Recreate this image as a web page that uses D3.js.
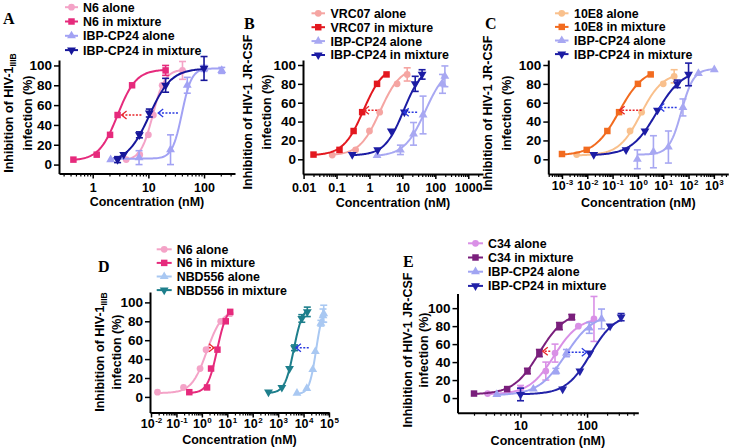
<!DOCTYPE html>
<html lang="en">
<head>
<meta charset="UTF-8">
<title>Inhibition of HIV-1 infection</title>
<script src="https://d3js.org/d3.v7.min.js"></script>
<style>
  body { margin: 0; background: #fff; }
  svg { display: block; font-family: "Liberation Sans", Arial, sans-serif; }
</style>
</head>
<body>
<svg id="chart" width="731" height="448"></svg>
<script>
// ---- data: [concentration nM, inhibition %, error] ----
// fits: [bottom, top, EC50, hill]
const A_names = ["N6 alone", "N6 in mixture", "IBP-CP24 alone", "IBP-CP24 in mixture"];
const A_N6_alone = [[4,5,0],[7,10,0],[10,30,0],[12.3,50,0],[17.7,80,0],[41,95,9]];
const A_N6_mix = [[0.45,5,0],[1.18,10,0],[2.05,30,0],[2.8,50,0],[5.1,80,0],[20.4,95,5]];
const A_IBP_alone = [[2.1,5,0],[6.8,7,7],[25,15,15],[50,80,8],[100,97,3],[208,95,3]];
const A_IBP_mix = [[2.8,5,3],[3.6,10,0],[6.9,30,3],[10.4,52,4],[20.4,80,7],[100,97,12]];
const A_fits = [[4,96,12,4], [4,96,2.8,2.6], [6,97,40,5], [2,97,10.4,2.2]];
const A_arrows = [[7.5,3.3,50], [34,15,52]];
const A_xTicks = [1, 10, 100];

const B_names = ["VRC07 alone", "VRC07 in mixture", "IBP-CP24 alone", "IBP-CP24 in mixture"];
const B_VRC_alone = [[0.074,4.5,0],[0.38,10,0],[1.0,30,0],[2.04,50,0],[6.9,80,0],[14,90,7]];
const B_VRC_mix = [[0.02,5,0],[0.123,10,0],[0.33,30,0],[0.6,50,0],[1.7,80,0],[3.3,90,0]];
const B_IBP_alone = [[1.7,4,0],[8.7,10,5],[21.8,27,12],[42.4,47,20],[165,80,10],[195,88,11]];
const B_IBP_mix = [[0.3,5,0],[1.78,10,0],[4.6,30,0],[11.5,50,0],[24.5,80,8],[39.6,90,5]];
const B_fits = [[4,98,2.1,1.4], [4,100,0.66,1.42], [3,100,50,1.35], [4,100,11,1.5]];
const B_arrows = [[1.7,0.68,52], [28,11,50]];
const B_xTicks = [0.01, 0.1, 1, 10, 100, 1000];

const C_names = ["10E8 alone", "10E8 in mixture", "IBP-CP24 alone", "IBP-CP24 in mixture"];
const C_10E8_alone = [[0.0038,5,0],[0.49,30,0],[1.4,50,0],[10,80,0],[27,88,7]];
const C_10E8_mix = [[0.001,5.6,0],[0.0095,10,0],[0.062,30,0],[0.18,50,0],[1.0,80,0],[3.2,90,0]];
const C_IBP_alone = [[0.95,0,10],[4.1,8,17],[16,13,17],[60,55,9],[245,91,0],[1040,95,0]];
const C_IBP_mix = [[0.018,5,0],[0.34,10,0],[1.9,30,0],[5.9,52,0],[36,80,4],[100,90,12]];
const C_fits = [[4,92,1.3,1.0], [4,97,0.18,0.88], [5,96,52,1.8], [4,95,5.5,0.86]];
const C_arrows = [[1.4,0.19,52], [34,7,55]];
const C_xTicks = [1e-3, 1e-2, 1e-1, 1, 10, 100, 1000];

const D_names = ["N6 alone", "N6 in mixture", "NBD556 alone", "NBD556 in mixture"];
const D_N6_alone = [[0.018,5,0],[0.19,10,0],[0.85,30,0],[1.46,50,0],[5.5,80,0],[13,88,0]];
const D_N6_mix = [[0.32,5,0],[1.6,10,0],[2.3,30,0],[4.1,50,0],[8.7,80,0],[13,90,0]];
const D_NBD_alone = [[5500,4,0],[13400,9,0],[23000,29,0],[29000,48,0],[48000,78,3],[58000,86,7],[62000,88,9]];
const D_NBD_mix = [[417,5,0],[1400,10,0],[2800,30,0],[4400,52,3],[8500,83,4],[14000,90,5]];
const D_fits = [[4,92,1.55,1.46], [4,96,4,2.3], [3,96,31000,3.25], [4,96,4100,2.47]];
const D_arrows = [[1.9,3.0,52], [16000,5000,52]];
const D_xTicks = [1e-2, 1e-1, 1, 10, 100, 1e3, 1e4, 1e5];

const E_names = ["C34 alone", "C34 in mixture", "IBP-CP24 alone", "IBP-CP24 in mixture"];
const E_C34_alone = [[3.2,5,0],[10,10,4],[24,30,10],[33,50,10],[74,80,0],[127,88,25]];
const E_C34_mix = [[2,5,0],[6.3,10,0],[12.7,30,3],[19.2,50,4],[38.4,80,4],[59,90,3]];
const E_IBP_alone = [[4.4,4,0],[15.6,10,0],[34,30,3],[49,50,4],[108,78,6],[165,88,11]];
const E_IBP_mix = [[10,4,7],[43,10,0],[78,30,0],[110,50,0],[222,80,0],[325,90,4]];
const E_fits = [[4,90,32,2.3], [4,96,19,2.25], [3,94,48,2.1], [4,94,113,2.35]];
const E_arrows = [[28,21.6,52], [52,99,51]];
const E_xTicks = [10, 100];

const yTicks = [0, 20, 40, 60, 80, 100];

// ---- layout / styles ----
const RED = "#e8262a", BLUE = "#2a3ae0";
const SYM = { circle: d3.symbolCircle, square: d3.symbolSquare, tri: d3.symbolTriangle, triDown: d3.symbolTriangle };
const SYM_SIZE = { circle: 36, square: 42, tri: 34, triDown: 34 };
const symbols4 = ["circle", "square", "tri", "triDown"];

function mk(names, pts, fits, colors) {
  return names.map((n, i) => ({ name: n, pts: pts[i], fit: fits[i], color: colors[i], sym: symbols4[i] }));
}

const panels = [
  { letter: "A", lx: 3, ly: 24, xDomain: [0.248, 360], xRange: [59, 235], yDomain: [-9, 105.5], yRange: [173.5, 60],
    xTicks: A_xTicks, sup: false, sub: "IIIB", line1: "Inhibition of HIV-1", labX: [9, 28], labY: 113,
    tickBase: 192, titleY: 206, leg: { x0: 65, x1: 78, tx: 83, y0: 7.2, dy: 14.3 },
    series: mk(A_names, [A_N6_alone, A_N6_mix, A_IBP_alone, A_IBP_mix], A_fits, ["#f4a3c7", "#e62a7c", "#a2a2f4", "#16169a"]),
    arrows: A_arrows },
  { letter: "B", lx: 244, ly: 29, xDomain: [0.0096, 2800], xRange: [303, 483], yDomain: [-15.6, 105.3], yRange: [174, 60],
    xTicks: B_xTicks, sup: false, sub: null, line1: "Inhibition of HIV-1 JR-CSF", labX: [248, 266.5], labY: 112,
    tickBase: 192, titleY: 207, leg: { x0: 311.5, x1: 325, tx: 330.5, y0: 13.3, dy: 13.9 },
    series: mk(B_names, [B_VRC_alone, B_VRC_mix, B_IBP_alone, B_IBP_mix], B_fits, ["#f5a5a2", "#e3181f", "#a8a8f2", "#1c1ca4"]),
    arrows: B_arrows },
  { letter: "C", lx: 485, ly: 28.5, xDomain: [Math.pow(10, -3.54), Math.pow(10, 3.57)], xRange: [548.3, 728.3], yDomain: [-15.6, 105.3], yRange: [174, 60],
    xTicks: C_xTicks, sup: true, sub: null, line1: "Inhibition of HIV-1 JR-CSF", labX: [487.5, 506.5], labY: 113,
    tickBase: 190, titleY: 207, leg: { x0: 555, x1: 568.5, tx: 574, y0: 13.3, dy: 13.6 },
    series: mk(C_names, [C_10E8_alone, C_10E8_mix, C_IBP_alone, C_IBP_mix], C_fits, ["#f9c08c", "#f26b1f", "#a8a8f2", "#1c1ca4"]),
    arrows: C_arrows },
  { letter: "D", lx: 98, ly: 272, xDomain: [Math.pow(10, -2.04), 1e5], xRange: [150, 329], yDomain: [-16.5, 111], yRange: [412.5, 292],
    xTicks: D_xTicks, sup: true, sub: "IIIB", line1: "Inhibition of HIV-1", labX: [100, 116.7], labY: 352,
    tickBase: 428, titleY: 443.5, leg: { x0: 156.7, x1: 171.7, tx: 176.7, y0: 249.3, dy: 13.6 },
    series: mk(D_names, [D_N6_alone, D_N6_mix, D_NBD_alone, D_NBD_mix], D_fits, ["#f4a3c7", "#e62a7c", "#a9c8f2", "#1e7f8c"]),
    arrows: D_arrows },
  { letter: "E", lx: 403, ly: 267, xDomain: [Math.pow(10, 0.053), Math.pow(10, 2.77)], xRange: [457.5, 638.3], yDomain: [-16.3, 116.3], yRange: [412.7, 293.5],
    xTicks: E_xTicks, sup: false, sub: null, line1: "Inhibition of HIV-1 JR-CSF", labX: [407.5, 424], labY: 350,
    tickBase: 430.5, titleY: 445, leg: { x0: 468, x1: 483, tx: 488, y0: 243.3, dy: 14.2 },
    series: mk(E_names, [E_C34_alone, E_C34_mix, E_IBP_alone, E_IBP_mix], E_fits, ["#d990e6", "#7a1f7c", "#a0a4f2", "#2222a8"]),
    arrows: E_arrows }
];

const svg = d3.select("#chart");

function fourPL(p, c) {
  const [b, t, ec, h] = p;
  return b + (t - b) / (1 + Math.pow(ec / c, h));
}

function minorTicks(dom) {
  const out = [];
  const lo = Math.floor(Math.log10(dom[0])), hi = Math.ceil(Math.log10(dom[1]));
  for (let e = lo; e <= hi; e++) {
    for (let m = 2; m <= 9; m++) {
      const v = m * Math.pow(10, e);
      if (v > dom[0] && v < dom[1]) out.push(v);
    }
  }
  return out;
}

function symbolPath(s) {
  return d3.symbol().type(SYM[s]).size(SYM_SIZE[s])();
}

function drawPanel(p) {
  const g = svg.append("g");
  const x = d3.scaleLog().domain(p.xDomain).range(p.xRange);
  const y = d3.scaleLinear().domain(p.yDomain).range(p.yRange);
  const x0 = p.xRange[0], yBase = p.yRange[0];

  // minor x ticks
  g.append("g").attr("transform", `translate(0,${yBase})`)
    .call(d3.axisBottom(x).tickValues(minorTicks(x.domain())).tickSize(3).tickSizeOuter(0).tickFormat(""))
    .call(a => a.select(".domain").remove())
    .selectAll("line").attr("stroke", "#000").attr("stroke-width", 1.2);

  // major x axis
  const xa = g.append("g").attr("transform", `translate(0,${yBase})`)
    .call(d3.axisBottom(x).tickValues(p.xTicks).tickSize(5).tickSizeOuter(0).tickPadding(4).tickFormat(d => d3.format("~g")(d)));
  xa.select(".domain").attr("stroke", "#000").attr("stroke-width", 2);
  xa.selectAll(".tick line").attr("stroke", "#000").attr("stroke-width", 1.5);
  xa.selectAll(".tick text")
    .attr("fill", "#000").attr("font-size", 12.5).attr("font-weight", "bold")
    .attr("font-family", "Liberation Sans, Arial, sans-serif")
    .attr("dy", null).attr("y", p.tickBase - yBase)
    .each(function (d) {
      if (!p.sup) return;
      const t = d3.select(this).text("");
      t.append("tspan").text("10");
      t.append("tspan").attr("font-size", 8).attr("dy", -5).attr("dx", 0.5).text(Math.round(Math.log10(d)));
    });

  // y axis
  const ya = g.append("g").attr("transform", `translate(${x0},0)`)
    .call(d3.axisLeft(y).tickValues(yTicks).tickSize(5).tickSizeOuter(0).tickPadding(2));
  ya.select(".domain").attr("stroke", "#000").attr("stroke-width", 2);
  ya.selectAll(".tick line").attr("stroke", "#000").attr("stroke-width", 1.5);
  ya.selectAll(".tick text").attr("fill", "#000").attr("font-size", 13.5).attr("font-weight", "bold")
    .attr("font-family", "Liberation Sans, Arial, sans-serif");

  // axis titles
  const xc = (p.xRange[0] + p.xRange[1]) / 2;
  g.append("text").attr("x", xc).attr("y", p.titleY).attr("text-anchor", "middle")
    .attr("font-size", 12.5).attr("font-weight", "bold").text("Concentration (nM)");

  const yl = g.append("text").attr("transform", `translate(${p.labX[0]},${p.labY}) rotate(-90)`)
    .attr("text-anchor", "middle").attr("dy", "0.35em").attr("font-size", 12.5).attr("font-weight", "bold");
  yl.append("tspan").text(p.line1);
  if (p.sub) yl.append("tspan").attr("font-size", 8.5).attr("dy", 3).text(p.sub);
  g.append("text").attr("transform", `translate(${p.labX[1]},${p.labY}) rotate(-90)`)
    .attr("text-anchor", "middle").attr("dy", "0.35em").attr("font-size", 12.5).attr("font-weight", "bold")
    .text("infection (%)");

  // panel letter
  g.append("text").attr("x", p.lx).attr("y", p.ly)
    .attr("font-family", "Liberation Serif, Times New Roman, serif").attr("font-weight", "bold").attr("font-size", 16)
    .text(p.letter);

  // series
  const line = d3.line().x(d => x(d[0])).y(d => y(d[1]));
  p.series.forEach(s => {
    const xs = s.pts.map(d => d[0]);
    const lo = Math.log10(d3.min(xs)), hi = Math.log10(d3.max(xs));
    const curve = d3.range(0, 81).map(i => {
      const c = Math.pow(10, lo + (hi - lo) * i / 80);
      return [c, fourPL(s.fit, c)];
    });
    g.append("path").attr("d", line(curve)).attr("fill", "none")
      .attr("stroke", s.color).attr("stroke-width", 2);

    const eb = s.pts.filter(d => d[2] > 0);
    const ebg = g.append("g").attr("stroke", s.color).attr("stroke-width", 1.6);
    ebg.selectAll(".v").data(eb).join("line")
      .attr("x1", d => x(d[0])).attr("x2", d => x(d[0]))
      .attr("y1", d => y(d[1] - d[2])).attr("y2", d => y(d[1] + d[2]));
    ebg.selectAll(".t").data(eb.flatMap(d => [[d[0], d[1] + d[2]], [d[0], d[1] - d[2]]])).join("line")
      .attr("x1", d => x(d[0]) - 3.5).attr("x2", d => x(d[0]) + 3.5)
      .attr("y1", d => y(d[1])).attr("y2", d => y(d[1]));

    g.append("g").selectAll("path").data(s.pts).join("path")
      .attr("d", symbolPath(s.sym))
      .attr("transform", d => `translate(${x(d[0])},${y(d[1])})` + (s.sym === "triDown" ? " rotate(180)" : ""))
      .attr("fill", s.color);
  });

  // shift arrows
  p.arrows.forEach((a, i) => {
    const col = i === 0 ? RED : BLUE;
    const xa1 = x(a[0]), xa2 = x(a[1]), yy = y(a[2]);
    const dir = xa2 < xa1 ? 1 : -1;
    g.append("line").attr("x1", xa1).attr("x2", xa2).attr("y1", yy).attr("y2", yy)
      .attr("stroke", col).attr("stroke-width", 1.5).attr("stroke-dasharray", "2,1.5");
    g.append("path")
      .attr("d", `M${xa2 + dir * 5},${yy - 4}L${xa2},${yy}L${xa2 + dir * 5},${yy + 4}`)
      .attr("fill", "none").attr("stroke", col).attr("stroke-width", 1.3);
  });

  // legend
  const L = p.leg;
  p.series.forEach((s, i) => {
    const ly = L.y0 + i * L.dy;
    g.append("line").attr("x1", L.x0).attr("x2", L.x1).attr("y1", ly).attr("y2", ly)
      .attr("stroke", s.color).attr("stroke-width", 2);
    g.append("path").attr("d", symbolPath(s.sym))
      .attr("transform", `translate(${(L.x0 + L.x1) / 2},${ly})` + (s.sym === "triDown" ? " rotate(180)" : ""))
      .attr("fill", s.color);
    g.append("text").attr("x", L.tx).attr("y", ly).attr("dy", "0.36em")
      .attr("font-size", 12.4).attr("font-weight", "bold").text(s.name);
  });
}

panels.forEach(drawPanel);
</script>
</body>
</html>
